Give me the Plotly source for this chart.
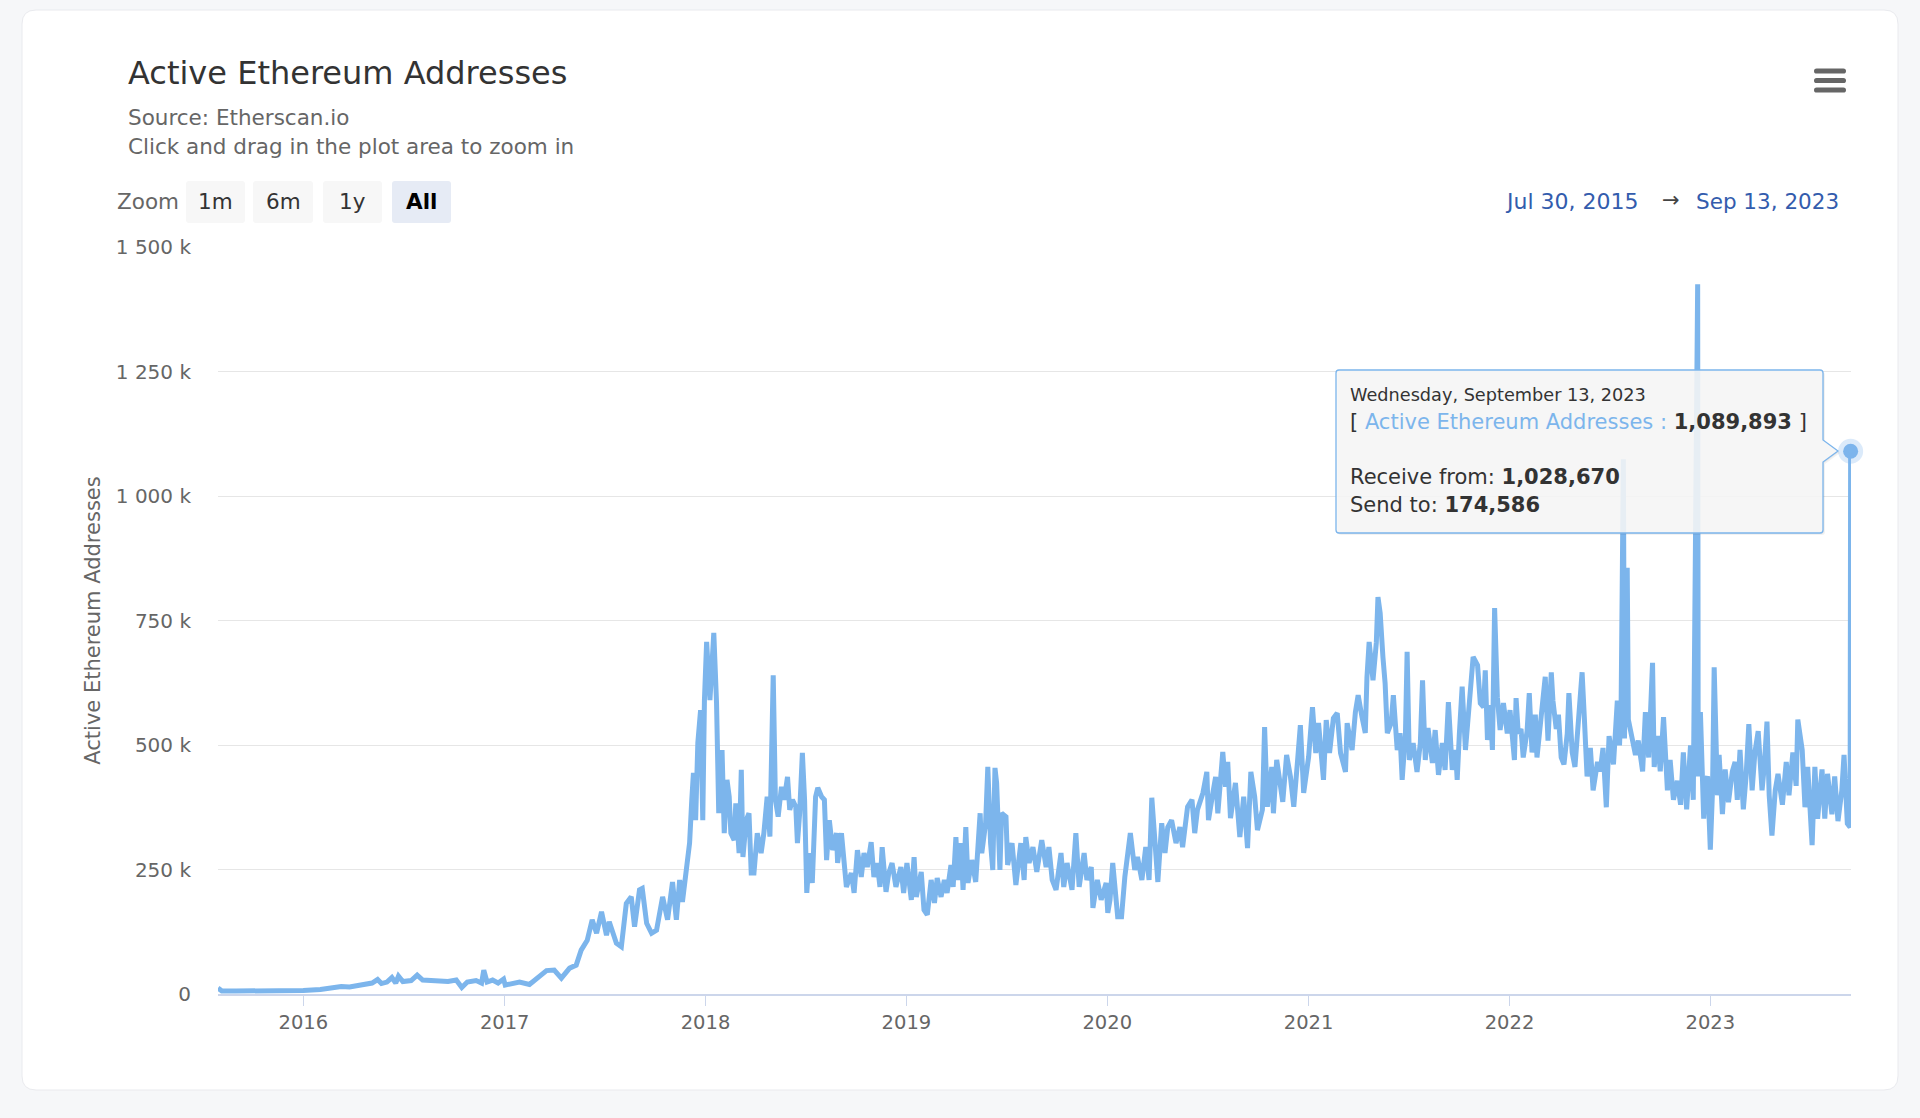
import plotly.graph_objects as go

# ---------------- data: daily active addresses (thousands) ----------------
dates_2015_2016 = [
    "2015-07-30", "2015-08-06", "2015-09-01", "2015-10-01", "2015-11-01", "2015-12-01",
    "2016-01-01", "2016-02-01", "2016-02-20", "2016-03-10", "2016-03-25", "2016-04-10", "2016-04-25",
    "2016-05-05", "2016-05-15", "2016-05-22", "2016-06-01", "2016-06-10", "2016-06-17", "2016-06-22",
    "2016-06-30", "2016-07-15", "2016-07-26", "2016-08-05", "2016-08-20", "2016-09-05", "2016-09-20",
    "2016-10-05", "2016-10-15", "2016-10-25", "2016-11-10", "2016-11-20", "2016-11-24", "2016-11-30",
    "2016-12-10", "2016-12-20", "2016-12-30",
]
values_2015_2016 = [
    12, 6, 6, 6, 6, 7,
    7, 9, 12, 15, 14, 18, 20,
    22, 29, 21, 24, 33, 22, 36,
    25, 27, 38, 28, 27, 26, 25,
    28, 13, 24, 27, 22, 48, 24,
    28, 22, 30,
]

dates_2017 = [
    "2017-01-02", "2017-01-28", "2017-02-15", "2017-03-05", "2017-03-18",
    "2017-04-01", "2017-04-14", "2017-04-29", "2017-05-11", "2017-05-20",
    "2017-05-31", "2017-06-09", "2017-06-17", "2017-06-26", "2017-07-05",
    "2017-07-10", "2017-07-23", "2017-08-01", "2017-08-10", "2017-08-19",
    "2017-08-25", "2017-09-03", "2017-09-08", "2017-09-16", "2017-09-25",
    "2017-10-04", "2017-10-15", "2017-10-24", "2017-11-02", "2017-11-09",
    "2017-11-15", "2017-11-20", "2017-11-28", "2017-12-03", "2017-12-07",
    "2017-12-10", "2017-12-14", "2017-12-18", "2017-12-23", "2017-12-27",
    "2017-12-30",
]
values_2017 = [
    18, 24, 19, 35, 47,
    48, 32, 52, 58, 88,
    108, 149, 122, 165, 118,
    145, 102, 95, 182, 195,
    135, 209, 212, 142, 122,
    128, 195, 149, 225, 149,
    229, 185, 263, 303, 390,
    444, 349, 504, 570, 349,
    590,
]

dates_2018 = [
    "2018-01-03", "2018-01-09", "2018-01-16", "2018-01-21", "2018-01-25", "2018-01-31",
    "2018-02-04", "2018-02-09", "2018-02-13", "2018-02-16", "2018-02-22", "2018-02-25",
    "2018-03-03", "2018-03-07", "2018-03-10", "2018-03-16", "2018-03-21", "2018-03-25", "2018-03-30",
    "2018-04-05", "2018-04-12", "2018-04-17", "2018-04-23", "2018-04-28",
    "2018-05-04", "2018-05-08", "2018-05-13", "2018-05-19", "2018-05-24", "2018-05-30",
    "2018-06-03", "2018-06-08", "2018-06-14", "2018-06-17", "2018-06-21", "2018-06-26", "2018-06-30",
    "2018-07-04", "2018-07-09", "2018-07-14", "2018-07-20", "2018-07-24", "2018-07-31",
    "2018-08-05", "2018-08-09", "2018-08-14", "2018-08-20", "2018-08-27", "2018-08-29",
    "2018-09-05", "2018-09-10", "2018-09-14", "2018-09-23", "2018-09-28",
    "2018-10-04", "2018-10-11", "2018-10-16", "2018-10-22", "2018-10-29",
    "2018-11-03", "2018-11-09", "2018-11-14", "2018-11-18", "2018-11-25", "2018-11-30",
    "2018-12-06", "2018-12-13", "2018-12-22", "2018-12-27",
]
values_2018 = [
    707, 590, 725, 584, 363, 490,
    323, 430, 396, 323, 309, 383,
    283, 450, 275, 349, 363, 243, 243,
    323, 283, 323, 396, 316,
    640, 390, 356, 416, 390, 436,
    370, 390, 376, 303, 363, 484, 390,
    203, 283, 223, 396, 414, 396,
    390, 269, 349, 289, 323, 263,
    323, 269, 215, 243, 203,
    289, 235, 283, 255, 305,
    235, 263, 215, 295, 205, 243,
    263, 215, 255, 203,
]

dates_2019 = [
    "2019-01-02", "2019-01-10", "2019-01-15", "2019-01-19", "2019-01-28",
    "2019-02-02", "2019-02-08", "2019-02-15", "2019-02-21", "2019-02-26",
    "2019-03-05", "2019-03-11", "2019-03-16", "2019-03-23", "2019-03-27",
    "2019-04-01", "2019-04-05", "2019-04-10", "2019-04-14", "2019-04-19", "2019-04-23", "2019-04-30",
    "2019-05-07", "2019-05-15", "2019-05-18", "2019-05-25", "2019-05-29",
    "2019-06-03", "2019-06-07", "2019-06-11", "2019-06-14", "2019-06-20", "2019-06-23",
    "2019-07-01", "2019-07-04", "2019-07-12", "2019-07-19", "2019-07-28",
    "2019-08-03", "2019-08-06", "2019-08-12", "2019-08-19", "2019-08-26",
    "2019-09-04", "2019-09-12", "2019-09-17", "2019-09-23", "2019-09-30",
    "2019-10-09", "2019-10-14", "2019-10-20", "2019-10-29",
    "2019-11-05", "2019-11-11", "2019-11-20", "2019-11-25",
    "2019-12-03", "2019-12-06", "2019-12-14", "2019-12-21", "2019-12-30",
]
values_2019 = [
    263, 189, 275, 195, 245,
    169, 159, 229, 183, 233,
    195, 229, 203, 259, 215,
    315, 229, 303, 209, 335, 223, 269,
    225, 363, 283, 343, 456,
    303, 249, 454, 424, 249, 363,
    356, 259, 303, 219, 303,
    229, 315, 263, 295, 245,
    309, 255, 295, 229, 209,
    283, 215, 263, 209,
    323, 215, 283, 229,
    255, 173, 229, 189, 223,
]

dates_2020 = [
    "2020-01-02", "2020-01-06", "2020-01-11", "2020-01-15", "2020-01-20", "2020-01-27",
    "2020-02-02", "2020-02-12", "2020-02-20", "2020-02-25",
    "2020-03-04", "2020-03-11", "2020-03-17", "2020-03-22", "2020-03-28",
    "2020-04-02", "2020-04-09", "2020-04-15", "2020-04-20", "2020-04-27",
    "2020-05-05", "2020-05-12", "2020-05-17", "2020-05-26",
    "2020-06-03", "2020-06-08", "2020-06-13", "2020-06-23", "2020-06-30",
    "2020-07-03", "2020-07-11", "2020-07-16", "2020-07-20", "2020-07-29",
    "2020-08-03", "2020-08-07", "2020-08-12", "2020-08-21", "2020-08-29",
    "2020-09-05", "2020-09-12", "2020-09-18", "2020-09-25", "2020-09-30",
    "2020-10-09", "2020-10-13", "2020-10-18", "2020-10-26", "2020-10-29",
    "2020-11-04", "2020-11-15", "2020-11-22", "2020-11-29",
    "2020-12-05", "2020-12-12", "2020-12-17", "2020-12-23",
]
values_2020 = [
    163, 189, 263, 215, 155, 155,
    235, 323, 249, 275,
    229, 295, 229, 394, 295,
    225, 343, 283, 335, 349,
    303, 335, 295, 376,
    390, 323, 370, 404, 446,
    349, 404, 436, 363, 486,
    416, 466, 353, 424, 315,
    396, 293, 446, 396, 329,
    370, 536, 376, 456, 363,
    470, 386, 480, 436,
    376, 470, 540, 404,
]

dates_2021 = [
    "2021-01-01", "2021-01-08", "2021-01-14", "2021-01-19", "2021-01-28",
    "2021-02-02", "2021-02-08", "2021-02-15", "2021-02-22", "2021-02-28",
    "2021-03-09", "2021-03-12", "2021-03-21", "2021-03-27",
    "2021-04-01", "2021-04-08", "2021-04-14", "2021-04-17", "2021-04-21", "2021-04-28",
    "2021-05-04", "2021-05-07", "2021-05-11", "2021-05-16", "2021-05-20", "2021-05-24", "2021-05-31",
    "2021-06-04", "2021-06-11", "2021-06-16", "2021-06-20", "2021-06-26", "2021-06-29",
    "2021-07-03", "2021-07-10", "2021-07-17", "2021-07-23", "2021-07-27",
    "2021-08-01", "2021-08-06", "2021-08-14", "2021-08-19", "2021-08-25",
    "2021-09-01", "2021-09-06", "2021-09-12", "2021-09-19", "2021-09-25", "2021-09-28",
    "2021-10-02", "2021-10-07", "2021-10-13", "2021-10-20", "2021-10-27",
    "2021-11-04", "2021-11-09", "2021-11-15", "2021-11-18", "2021-11-22", "2021-11-27",
    "2021-12-01", "2021-12-05", "2021-12-10", "2021-12-15", "2021-12-21", "2021-12-28",
]
values_2021 = [
    476, 576, 484, 544, 430,
    550, 484, 554, 564, 484,
    446, 544, 490, 566,
    600, 556, 524, 636, 707, 630,
    705, 797, 765, 677, 624, 524, 544,
    600, 490, 524, 430, 524, 687,
    470, 504, 446, 504, 630,
    470, 534, 464, 530, 440,
    504, 450, 586, 450, 490, 430,
    524, 617, 490, 574, 677,
    660, 584, 576, 650, 510, 580,
    490, 775, 596, 530, 584, 523,
]

dates_2022 = [
    "2022-01-02", "2022-01-10", "2022-01-13", "2022-01-17", "2022-01-22", "2022-01-26",
    "2022-02-02", "2022-02-06", "2022-02-11", "2022-02-17", "2022-02-20", "2022-02-28",
    "2022-03-07", "2022-03-12", "2022-03-18", "2022-03-21", "2022-03-27", "2022-03-31",
    "2022-04-05", "2022-04-10", "2022-04-16", "2022-04-19", "2022-04-25", "2022-04-30",
    "2022-05-06", "2022-05-13", "2022-05-17", "2022-05-22", "2022-05-28",
    "2022-06-02", "2022-06-10", "2022-06-15", "2022-06-20", "2022-06-26",
    "2022-07-01", "2022-07-09", "2022-07-16", "2022-07-20", "2022-07-23", "2022-07-27", "2022-07-29",
    "2022-08-03", "2022-08-05", "2022-08-12", "2022-08-18", "2022-08-23", "2022-08-31",
    "2022-09-05", "2022-09-11", "2022-09-18", "2022-09-21", "2022-09-27",
    "2022-10-02", "2022-10-08", "2022-10-15", "2022-10-20", "2022-10-26",
    "2022-11-02", "2022-11-08", "2022-11-13", "2022-11-19", "2022-11-26",
    "2022-12-01", "2022-12-09", "2022-12-10", "2022-12-14", "2022-12-20", "2022-12-23", "2022-12-27",
]
values_2022 = [
    570, 470, 594, 523, 532, 475,
    528, 604, 485, 561, 475, 561,
    637, 509, 646, 589, 532, 561,
    475, 461, 523, 604, 485, 456,
    547, 646, 556, 437, 494,
    409, 466, 447, 494, 375,
    518, 461, 589, 499, 589, 1074, 513,
    856, 551, 513, 480, 509, 447,
    566, 475, 665, 456, 518,
    447, 556, 409, 470, 390,
    428, 380, 485, 371, 499,
    390, 1425, 437, 566, 352, 423, 437,
]

dates_2023 = [
    "2023-01-01", "2023-01-05", "2023-01-08", "2023-01-14", "2023-01-17", "2023-01-23", "2023-01-28",
    "2023-02-03", "2023-02-10", "2023-02-15", "2023-02-19", "2023-02-24",
    "2023-03-02", "2023-03-07", "2023-03-12", "2023-03-18", "2023-03-23", "2023-03-29",
    "2023-04-05", "2023-04-09", "2023-04-14", "2023-04-18", "2023-04-23", "2023-04-29",
    "2023-05-04", "2023-05-12", "2023-05-19", "2023-05-24", "2023-05-31",
    "2023-06-06", "2023-06-09", "2023-06-17", "2023-06-22", "2023-06-27",
    "2023-07-05", "2023-07-10", "2023-07-15", "2023-07-23", "2023-07-28",
    "2023-08-02", "2023-08-10", "2023-08-15", "2023-08-21", "2023-08-28",
    "2023-09-01", "2023-09-07", "2023-09-12", "2023-09-13",
]
values_2023 = [
    290, 409, 656, 399, 480, 361, 451,
    385, 447, 466, 390, 490,
    371, 437, 542, 409, 485, 528,
    409, 456, 547, 399, 318, 409,
    442, 380, 466, 399, 485,
    418, 551, 490, 375, 456,
    299, 456, 352, 451, 352,
    442, 361, 437, 347, 409,
    480, 342, 335, 1089.893,
]

# tooltip shown in the reference (hovered last point)
tooltip_date = "Wednesday, September 13, 2023"
tooltip_value = "1,089,893"
tooltip_receive = "1,028,670"
tooltip_send = "174,586"

series_name = "Active Ethereum Addresses"
y_tick_vals = [0, 250000, 500000, 750000, 1000000, 1250000, 1500000]
y_tick_text = ["0", "250 k", "500 k", "750 k", "1 000 k", "1 250 k", "1 500 k"]
range_start_label = "Jul 30, 2015"
range_end_label = "Sep 13, 2023"
zoom_buttons = ["1m", "6m", "1y", "All"]

dates = (dates_2015_2016 + dates_2017 + dates_2018 + dates_2019 +
         dates_2020 + dates_2021 + dates_2022 + dates_2023)
values_k = (values_2015_2016 + values_2017 + values_2018 + values_2019 +
            values_2020 + values_2021 + values_2022 + values_2023)
values = [v * 1000 for v in values_k]

# ---------------- layout geometry (pixels) ----------------
W, H = 1920, 1118
PL, PR, PT, PB = 218, 1851, 247, 994   # plot area


def xp(px):
    return (px - PL) / (PR - PL)


def yp(py):
    return (PB - py) / (PB - PT)


def rrect(x0, y0, x1, y1, r):
    return (f"M{xp(x0 + r)},{yp(y0)} L{xp(x1 - r)},{yp(y0)} Q{xp(x1)},{yp(y0)} {xp(x1)},{yp(y0 + r)} "
            f"L{xp(x1)},{yp(y1 - r)} Q{xp(x1)},{yp(y1)} {xp(x1 - r)},{yp(y1)} "
            f"L{xp(x0 + r)},{yp(y1)} Q{xp(x0)},{yp(y1)} {xp(x0)},{yp(y1 - r)} "
            f"L{xp(x0)},{yp(y0 + r)} Q{xp(x0)},{yp(y0)} {xp(x0 + r)},{yp(y0)} Z")


def tip_path(x0, y0, x1, y1, r, ay0, ay1, tx, ty, dx=0, dy=0):
    x0, x1, tx = x0 + dx, x1 + dx, tx + dx
    y0, y1, ay0, ay1, ty = y0 + dy, y1 + dy, ay0 + dy, ay1 + dy, ty + dy
    return (f"M{xp(x0 + r)},{yp(y0)} L{xp(x1 - r)},{yp(y0)} Q{xp(x1)},{yp(y0)} {xp(x1)},{yp(y0 + r)} "
            f"L{xp(x1)},{yp(ay0)} L{xp(tx)},{yp(ty)} L{xp(x1)},{yp(ay1)} "
            f"L{xp(x1)},{yp(y1 - r)} Q{xp(x1)},{yp(y1)} {xp(x1 - r)},{yp(y1)} "
            f"L{xp(x0 + r)},{yp(y1)} Q{xp(x0)},{yp(y1)} {xp(x0)},{yp(y1 - r)} "
            f"L{xp(x0)},{yp(y0 + r)} Q{xp(x0)},{yp(y0)} {xp(x0 + r)},{yp(y0)} Z")


FONT = "DejaVu Sans, Lucida Grande, Verdana, sans-serif"
LINE = "#7cb5ec"

fig = go.Figure()
fig.add_trace(go.Scatter(
    x=dates, y=values, mode="lines", name=series_name,
    line=dict(color=LINE, width=5),
    hovertemplate="%{x|%A, %B %-d, %Y}<br>" + series_name + ": %{y:,}<extra></extra>",
))
fig.add_trace(go.Scatter(
    x=[dates[-1]], y=[values[-1]], mode="markers", showlegend=False, hoverinfo="skip",
    marker=dict(size=15, color=LINE, line=dict(color="rgba(124,181,236,0.28)", width=10)),
    cliponaxis=False,
))

shapes = []
# card
shapes.append(dict(type="path", xref="paper", yref="paper", layer="below",
                   path=rrect(22, 10, 1898, 1090, 14), fillcolor="#ffffff",
                   line=dict(color="#e9eaee", width=1)))
# zoom buttons
btn_x = [(186, 245), (253, 313), (323, 382), (392, 451)]
for i, (bx0, bx1) in enumerate(btn_x):
    fill = "#e6ebf5" if zoom_buttons[i] == "All" else "#f7f7f7"
    shapes.append(dict(type="path", xref="paper", yref="paper", layer="below",
                       path=rrect(bx0, 181, bx1, 223, 3), fillcolor=fill, line=dict(width=0)))
# hamburger menu
for cy in (71, 80.5, 90):
    shapes.append(dict(type="path", xref="paper", yref="paper", layer="above",
                       path=rrect(1814, cy - 2.6, 1846, cy + 2.6, 2.6), fillcolor="#666666",
                       line=dict(width=0)))
# tooltip shadow + box
box = (1336, 370, 1823, 533, 3, 440, 462, 1838, 451)
shapes.append(dict(type="path", xref="paper", yref="paper", layer="above",
                   path=tip_path(*box, dx=2, dy=2), fillcolor="rgba(0,0,0,0.05)", line=dict(width=0)))
shapes.append(dict(type="path", xref="paper", yref="paper", layer="above",
                   path=tip_path(*box, dx=1, dy=1), fillcolor="rgba(0,0,0,0.05)", line=dict(width=0)))
shapes.append(dict(type="path", xref="paper", yref="paper", layer="above",
                   path=tip_path(*box), fillcolor="rgba(248,248,248,0.88)",
                   line=dict(color=LINE, width=1.3)))

ann = []


def text(x, y, s, size, color="#333333", xanchor="left", bold=False):
    ann.append(dict(x=xp(x), y=yp(y), xref="paper", yref="paper", text=(f"<b>{s}</b>" if bold else s),
                    showarrow=False, xanchor=xanchor, yanchor="middle",
                    font=dict(family=FONT, size=size, color=color)))


text(126, 73, "Active Ethereum Addresses", 32, "#333333")
text(126, 117.5, "Source: Etherscan.io", 21.5, "#666666")
text(126, 146, "Click and drag in the plot area to zoom in", 21.5, "#666666")
text(115, 202, "Zoom", 21.5, "#666666")
for (bx0, bx1), lab in zip(btn_x, zoom_buttons):
    text((bx0 + bx1) / 2, 202, lab, 21.5, "#000000" if lab == "All" else "#333333",
         xanchor="center", bold=(lab == "All"))
text(1641, 202, range_start_label, 22, "#335cad", xanchor="right")
text(1671, 200, "→", 21, "#444444", xanchor="center")
text(1841, 202, range_end_label, 21.5, "#335cad", xanchor="right")

text(1348, 395, tooltip_date, 17.7, "#333333")
text(1348, 422, f"[ <span style='color:{LINE}'>{series_name} : </span><b>{tooltip_value}</b> ]", 21, "#333333")
text(1348, 477, f"Receive from: <b>{tooltip_receive}</b>", 21, "#333333")
text(1348, 505, f"Send to: <b>{tooltip_send}</b>", 21, "#333333")

fig.update_layout(
    width=W, height=H,
    margin=dict(l=PL, r=W - PR, t=PT, b=H - PB, pad=0),
    paper_bgcolor="#f6f7f9", plot_bgcolor="rgba(0,0,0,0)",
    showlegend=False,
    font=dict(family=FONT, color="#666666"),
    shapes=shapes, annotations=ann,
    hovermode="closest",
    xaxis=dict(
        type="date", range=["2015-07-30", "2023-09-13 16:00"],
        tick0="2016-01-01", dtick="M12", tickformat="%Y",
        showgrid=False, zeroline=False,
        showline=True, linecolor="#ccd6eb", linewidth=2,
        ticks="outside", ticklen=10, tickwidth=1, tickcolor="#ccd6eb",
        tickfont=dict(family=FONT, size=19.5, color="#666666"),
        ticklabelstandoff=0,
    ),
    yaxis=dict(
        range=[0, 1500000], tickvals=y_tick_vals, ticktext=y_tick_text,
        showgrid=True, gridcolor="#e6e6e6", gridwidth=1, zeroline=False,
        showline=False, ticks="",
        tickfont=dict(family=FONT, size=20, color="#666666"),
        ticklabelstandoff=26,
        title=dict(text=series_name, font=dict(family=FONT, size=21, color="#666666"), standoff=9),
    ),
)

fig.write_html("out.html", config={"displayModeBar": False},
               post_script="document.body.style.margin='0';document.body.style.overflow='hidden';")
